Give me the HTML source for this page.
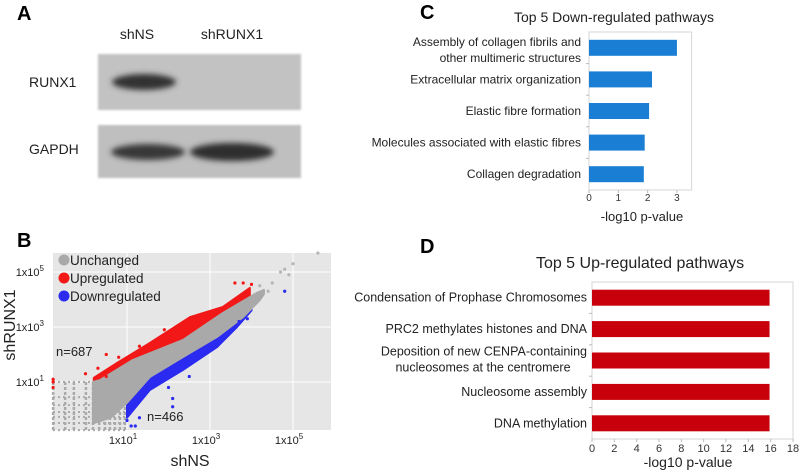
<!DOCTYPE html>
<html><head><meta charset="utf-8"><style>
html,body{margin:0;padding:0;background:#fff;}
svg{display:block;font-family:"Liberation Sans",sans-serif;}
</style></head><body>
<svg id="fig" width="800" height="470" viewBox="0 0 800 470">
<defs>
<filter id="blur" x="-20%" y="-50%" width="140%" height="200%"><feGaussianBlur stdDeviation="3"/></filter>
<filter id="blur1"><feGaussianBlur stdDeviation="1"/></filter>
</defs>
<g>
<text x="17" y="20" font-size="20" font-weight="bold">A</text>
<text x="137" y="39" font-size="14" text-anchor="middle" fill="#222">shNS</text>
<text x="232" y="39" font-size="14" text-anchor="middle" fill="#222">shRUNX1</text>
<text x="29" y="87" font-size="14" fill="#222">RUNX1</text>
<text x="29" y="154" font-size="14" fill="#222">GAPDH</text>
<rect x="98" y="54" width="203" height="56" fill="#c2c2c2" filter="url(#blur1)"/>
<ellipse cx="144" cy="82" rx="32" ry="8" fill="#333" filter="url(#blur)"/>
<rect x="98" y="125" width="203" height="53" fill="#bfbfbf" filter="url(#blur1)"/>
<ellipse cx="148" cy="152" rx="37" ry="8" fill="#383838" filter="url(#blur)"/>
<ellipse cx="232" cy="152" rx="42" ry="9" fill="#2e2e2e" filter="url(#blur)"/>
</g>
<g id="panelB">
<text x="17" y="247" font-size="20" font-weight="bold">B</text>
<rect x="53" y="253" width="278" height="177" fill="#e6e6e6"/>
</g>
<g id="panelC">
<text x="420" y="19" font-size="20" font-weight="bold">C</text>
<text x="614" y="22" font-size="14" text-anchor="middle" fill="#222">Top 5 Down-regulated pathways</text>
</g>
<g id="panelD">
<text x="420" y="253" font-size="20" font-weight="bold">D</text>
<text x="640" y="268" font-size="16" text-anchor="middle" fill="#222">Top 5 Up-regulated pathways</text>
</g>
</svg>
<script>
// ---------- Panel B data (log10 units) ----------
const grayUpX = [0.18, 0.35, 1.14, 2.35, 3.31, 4.13, 4.3];
const grayUpY = [1.0, 1.07, 1.8, 2.53, 3.51, 4.24, 4.35];
const grayLoX = [0.18, 0.6, 1.0, 1.55, 2.35, 3.17, 3.8, 4.2, 4.3];
const grayLoY = [-0.5, -0.3, 0.24, 1.18, 1.91, 2.64, 3.36, 3.98, 4.2];
const redUpX = [0.2, 0.76, 1.55, 2.52, 3.31, 3.96];
const redUpY = [1.15, 1.69, 2.42, 3.36, 3.73, 4.42];
const redLoX = [0.2, 0.76, 1.55, 2.52, 3.31, 3.96];
const redLoY = [0.9, 1.2, 1.9, 2.6, 3.4, 4.1];
const blueUpX = [1.0, 1.55, 2.35, 3.17, 3.65, 4.0];
const blueUpY = [0.6, 1.5, 2.2, 2.9, 3.6, 4.0];
const blueLoX = [1.0, 1.55, 2.35, 3.17, 3.65, 4.0];
const blueLoY = [-0.3, 0.71, 1.44, 2.27, 3.0, 3.6];
const redPts  = [[-0.78,1.0],[-0.78,0.8],[-0.78,1.1],[0.0,1.3],[0.3,1.5],[0.5,2.0],[0.8,1.9],[0.9,1.7],[1.3,2.3],[0.5,1.2],[1.9,2.9],[3.6,4.6],[3.8,4.6],[4.0,4.55]];
const bluePts = [[1.0,-0.4],[1.1,-0.6],[1.2,-0.6],[1.3,-0.3],[2.0,0.8],[2.1,0.4],[2.1,0.1],[2.5,1.2],[3.7,3.2],[3.9,3.3],[4.8,4.3]];
const grayPts = [[4.5,4.6],[4.7,5.0],[4.8,5.1],[4.9,4.9],[5.0,5.3],[5.6,5.7],[4.2,4.5],[4.4,4.3]];
const lowCols = [-0.78,-0.49,-0.28,0.01,0.18,0.33,0.47,0.59,0.71,0.83,0.95];
const lowRows = [1.0,0.45,0.16,-0.09,-0.27,-0.49,-0.75];
const bTicks = [1,3,5];
const bTickLabels = ["1x10","1x10","1x10"];
const bTickExp = ["1","3","5"];
const legendLabels = ["Unchanged","Upregulated","Downregulated"];
const legendColors = ["#a9a9a9","#f21818","#2a2af0"];

// ---------- Panel C data ----------
const cCats = [["Assembly of collagen fibrils and","other multimeric structures"],["Extracellular matrix organization"],["Elastic fibre formation"],["Molecules associated with elastic fibres"],["Collagen degradation"]];
const cVals = [3.0, 2.15, 2.05, 1.9, 1.87];
const cTicks = [0,1,2,3];
// ---------- Panel D data ----------
const dCats = [["Condensation of Prophase Chromosomes"],["PRC2 methylates histones and DNA"],["Deposition of new CENPA-containing","nucleosomes at the centromere"],["Nucleosome assembly"],["DNA methylation"]];
const dVals = [15.9, 15.9, 15.9, 15.9, 15.9];
const dTicks = [0,2,4,6,8,10,12,14,16,18];

const NS = "http://www.w3.org/2000/svg";
function mk(parent, tag, attrs, text){
  const e = document.createElementNS(NS, tag);
  for (const k in attrs) e.setAttribute(k, attrs[k]);
  if (text !== undefined) e.textContent = text;
  parent.appendChild(e);
  return e;
}

(function(){
  const g = document.getElementById('panelB');
  const sx = lx => 127 + (lx - 1) * 41.5;
  const sy = ly => 382 - (ly - 1) * 27.5;
  const clipY = y => Math.min(430, Math.max(253, y));
  bTicks.forEach((t, i) => {
    const gl = mk(g, 'line', {x1: sx(t), x2: sx(t), y1: 253, y2: 430, stroke: '#fff', 'stroke-width': 1});
    
    
    const gh = mk(g, 'line', {x1: 53, x2: 331, y1: sy(t), y2: sy(t), stroke: '#fff', 'stroke-width': 1});
    
    
    const xl = mk(g, 'text', {x: sx(t) - 4, y: 444, 'font-size': 11, 'text-anchor': 'middle', fill: '#222'});
    
    
    xl.appendChild(document.createTextNode(bTickLabels[i]));
    mk(xl, 'tspan', {dy: -5, 'font-size': 8}, bTickExp[i]);
    const yl = mk(g, 'text', {x: 44, y: sy(t) + 4, 'font-size': 11, 'text-anchor': 'end', fill: '#222'});
    
    
    yl.appendChild(document.createTextNode(bTickLabels[i]));
    mk(yl, 'tspan', {dy: -5, 'font-size': 8}, bTickExp[i]);
  });
  lowCols.forEach(c => {
    const l = mk(g, 'line', {x1: sx(c), x2: sx(c), y1: 382, y2: 430, stroke: '#aaa', 'stroke-width': 2.5, 'stroke-dasharray': '3 2'});
    
    
  });
  lowRows.forEach(r => {
    const l = mk(g, 'line', {x1: 53, x2: 127, y1: sy(r), y2: sy(r), stroke: '#aaa', 'stroke-width': 2, 'stroke-dasharray': '2 3'});
    
    
  });
  function band(ux, uy, lx, ly, color, name){
    let pts = ux.map((x, i) => sx(x) + ',' + clipY(sy(uy[i])));
    for (let i = lx.length - 1; i >= 0; i--) pts.push(sx(lx[i]) + ',' + clipY(sy(ly[i])));
    const p = mk(g, 'polygon', {points: pts.join(' '), fill: color, stroke: color, 'stroke-width': 2, 'stroke-linejoin': 'round'});
    
    
  }
  band(redUpX, redUpY, redLoX, redLoY, '#f21818', 'upregulated-points');
  band(blueUpX, blueUpY, blueLoX, blueLoY, '#2a2af0', 'downregulated-points');
  band(grayUpX, grayUpY, grayLoX, grayLoY, '#a9a9a9', 'unchanged-points');
  function pts(arr, color, name){
    arr.forEach(p => {
      const c = mk(g, 'circle', {cx: sx(p[0]), cy: clipY(sy(p[1])), r: 1.6, fill: color});
      
      
    });
  }
  pts(redPts, '#f21818', 'upregulated-point');
  pts(bluePts, '#2a2af0', 'downregulated-point');
  pts(grayPts, '#b5b5b5', 'unchanged-point');
  legendLabels.forEach((lab, i) => {
    const y = 260 + i * 18;
    const c = mk(g, 'circle', {cx: 64, cy: y, r: 5.5, fill: legendColors[i]});
    
    
    const t = mk(g, 'text', {x: 70, y: y + 5, 'font-size': 13.5, fill: '#222'}, lab);
    
    
  });
  const n1 = mk(g, 'text', {x: 56, y: 356, 'font-size': 13, fill: '#222'}, 'n=687');
  
  
  const n2 = mk(g, 'text', {x: 147, y: 421, 'font-size': 13, fill: '#222'}, 'n=466');
  
  
  const xt = mk(g, 'text', {x: 190, y: 466, 'font-size': 16, 'text-anchor': 'middle', fill: '#222'}, 'shNS');
  
  
  const yt = mk(g, 'text', {x: 0, y: 0, 'font-size': 16, 'text-anchor': 'middle', fill: '#222', transform: 'translate(15,325) rotate(-90)'}, 'shRUNX1');
  
  
})();

function barChart(gid, cfg){
  const g = document.getElementById(gid);
  const sx = v => cfg.x0 + (v / cfg.max) * (cfg.x1 - cfg.x0);
  const band = (cfg.bottom - cfg.top) / cfg.cats.length;
  const sy = i => cfg.top + band * (i + 0.5);
  const box = mk(g, 'rect', {x: cfg.x0, y: cfg.top, width: cfg.x1 - cfg.x0, height: cfg.bottom - cfg.top, fill: 'none', stroke: '#d6d6d6', 'stroke-width': 1});
  
  
  for (let i = 1; i < cfg.cats.length; i++) {
    const tk = mk(g, 'line', {x1: cfg.x0 - 3, x2: cfg.x0, y1: cfg.top + band * i, y2: cfg.top + band * i, stroke: '#bbb'});
    
    
  }
  cfg.vals.forEach((v, i) => {
    const b = mk(g, 'rect', {x: cfg.x0, y: sy(i) - 8, width: sx(v) - cfg.x0, height: 16, fill: cfg.color});
    
    
    const lines = cfg.cats[i];
    lines.forEach((ln, j) => {
      const dy = lines.length === 1 ? 4 : (j === 0 ? -3 : 13);
      const t = mk(g, 'text', {x: cfg.labelX, y: sy(i) + dy + (lines.length > 1 ? cfg.twoLineShift : 0), 'font-size': cfg.labelSize, 'text-anchor': (j === 1 && cfg.centerSecond) ? 'middle' : 'end', fill: '#222'}, ln);
      if (j === 1 && cfg.centerSecond) t.setAttribute('x', cfg.secondX);
      
      
    });
  });
  cfg.ticks.forEach(t => {
    const tk = mk(g, 'line', {x1: sx(t), x2: sx(t), y1: cfg.bottom, y2: cfg.bottom + 3, stroke: '#bbb'});
    
    
    const tl = mk(g, 'text', {x: sx(t), y: cfg.tickY, 'font-size': cfg.tickSize, 'text-anchor': 'middle', fill: '#333'}, String(t));
    
    
  });
  const xt = mk(g, 'text', {x: cfg.xtX, y: cfg.xtY, 'font-size': cfg.xtSize, 'text-anchor': 'middle', fill: '#222'}, '-log10 p-value');
  
  
}
barChart('panelC', {cats: cCats, vals: cVals, ticks: cTicks, max: 3.5, x0: 589, x1: 691.6, top: 32, bottom: 190,
  color: '#1a7fd4', labelX: 581, labelSize: 12, twoLineShift: 1, centerSecond: false,
  tickY: 201, tickSize: 10, xtX: 642, xtY: 221, xtSize: 13});
barChart('panelD', {cats: dCats, vals: dVals, ticks: dTicks, max: 18, x0: 592, x1: 793, top: 282, bottom: 439,
  color: '#c8000b', labelX: 587, labelSize: 12.5, twoLineShift: -2, centerSecond: true, secondX: 483,
  tickY: 452, tickSize: 11, xtX: 688, xtY: 467, xtSize: 14});
</script>
</body></html>
